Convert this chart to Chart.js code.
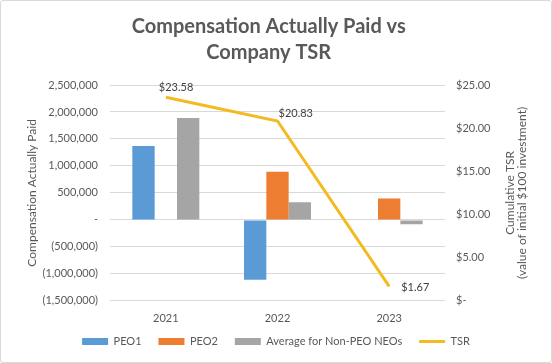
<!DOCTYPE html>
<html>
<head>
<meta charset="utf-8">
<script src="https://cdn.jsdelivr.net/npm/chart.js@4/dist/chart.umd.min.js"></script>
<style>
  html, body { margin: 0; padding: 0; background: #fff; }
  #wrap { width: 550px; height: 361px; border: 1px solid #d9d9d9; border-radius: 3px; overflow: hidden; }
  canvas { display: block; }
</style>
</head>
<body>
<div id="wrap"><canvas id="chart" width="550" height="361"></canvas></div>
<script>
// chart data
const years = ['2021', '2022', '2023'];
const peo1 = [1370000, -1110000, null];
const peo2 = [null, 890000, 395000];
const nonPeoAvg = [1890000, 325000, -80000];
const tsr = [23.58, 20.83, 1.67];

const textColor = '#595959';
const fontFamily = 'Lato, "Open Sans", sans-serif';

function formatComp(v) {
    if (v === 0) return '-';
    const s = Math.abs(v).toLocaleString('en-US');
    return v < 0 ? '(' + s + ')' : s;
}

function formatTsr(v) {
    return v === 0 ? '$-' : '$' + v.toFixed(2);
}

// value labels next to the TSR points
const tsrLabels = {
    id: 'tsrLabels',
    afterDatasetsDraw(chart) {
        const meta = chart.getDatasetMeta(3);
        const ctx = chart.ctx;
        const offsets = [[-7, -10, 'left'], [1, -8, 'left'], [12, 1, 'left']];
        ctx.save();
        ctx.font = '11px ' + fontFamily;
        ctx.fillStyle = '#404040';
        ctx.textBaseline = 'middle';
        meta.data.forEach((pt, i) => {
            const o = offsets[i];
            ctx.textAlign = o[2];
            ctx.fillText(formatTsr(tsr[i]), pt.x + o[0], pt.y + o[1]);
        });
        ctx.restore();
    }
};

// right axis title reads bottom-to-top like the left one
const rightTitle = {
    id: 'rightTitle',
    afterDraw(chart) {
        const ctx = chart.ctx;
        const area = chart.chartArea;
        const cy = (area.top + area.bottom) / 2;
        ctx.save();
        ctx.font = '12px ' + fontFamily;
        ctx.fillStyle = textColor;
        ctx.textAlign = 'center';
        ctx.textBaseline = 'middle';
        [['Cumulative TSR', 65], ['(value of initial $100 investment)', 77]].forEach(l => {
            ctx.save();
            ctx.translate(area.right + l[1], cy);
            ctx.rotate(-Math.PI / 2);
            ctx.fillText(l[0], 0, 0);
            ctx.restore();
        });
        ctx.restore();
    }
};

function drawChart() {
    new Chart(document.getElementById('chart'), {
        type: 'bar',
        data: {
            labels: years,
            datasets: [{
                label: 'PEO1',
                data: peo1,
                backgroundColor: '#5b9bd5',
                pointStyle: 'rect',
                borderWidth: 0,
                yAxisID: 'y'
            }, {
                label: 'PEO2',
                data: peo2,
                backgroundColor: '#ed7d31',
                pointStyle: 'rect',
                borderWidth: 0,
                yAxisID: 'y'
            }, {
                label: 'Average for Non-PEO NEOs',
                data: nonPeoAvg,
                backgroundColor: '#a5a5a5',
                pointStyle: 'rect',
                borderWidth: 0,
                yAxisID: 'y'
            }, {
                type: 'line',
                label: 'TSR',
                data: tsr,
                borderColor: '#f2bb22',
                backgroundColor: '#f2bb22',
                borderWidth: 3,
                pointRadius: 0,
                pointStyle: 'line',
                tension: 0,
                yAxisID: 'y1'
            }]
        },
        options: {
            responsive: false,
            animation: false,
            layout: { padding: { left: 0, right: 0, top: 0, bottom: 5 } },
            datasets: {
                bar: { categoryPercentage: 0.6, barPercentage: 1 }
            },
            plugins: {
                title: {
                    display: true,
                    // trailing spaces nudge the centred title a little left, as in the original
                    text: ['Compensation Actually Paid vs\u00a0\u00a0\u00a0', 'Company TSR\u00a0\u00a0\u00a0'],
                    color: textColor,
                    font: { family: fontFamily, size: 20, weight: 'bold', lineHeight: 1.3 },
                    padding: { top: 13, bottom: 19 }
                },
                legend: {
                    position: 'bottom',
                    labels: {
                        usePointStyle: true,
                        pointStyleWidth: 26,
                        boxHeight: 7,
                        color: textColor,
                        font: { family: fontFamily, size: 11 },
                        padding: 0,
                        generateLabels(chart) {
                            const items = Chart.defaults.plugins.legend.labels.generateLabels(chart);
                            // extra space between entries
                            items.forEach((it, i) => {
                                if (i < items.length - 1) it.text += '      ';
                            });
                            return items;
                        }
                    }
                },
                tooltip: { enabled: false }
            },
            scales: {
                x: {
                    grid: { display: false, drawTicks: false },
                    border: { display: false },
                    ticks: { color: textColor, font: { family: fontFamily, size: 11 }, padding: 11 }
                },
                y: {
                    position: 'left',
                    min: -1500000,
                    max: 2500000,
                    grid: { color: '#d9d9d9', drawTicks: false },
                    border: { display: false },
                    ticks: {
                        stepSize: 500000,
                        color: textColor,
                        font: { family: fontFamily, size: 11 },
                        padding: 12,
                        callback: v => formatComp(v)
                    },
                    title: {
                        display: true,
                        text: 'Compensation Actually Paid',
                        color: textColor,
                        font: { family: fontFamily, size: 12 },
                        padding: { top: 24, bottom: 0 }
                    },
                    afterFit(scale) { scale.width = 109; }
                },
                y1: {
                    position: 'right',
                    min: 0,
                    max: 25,
                    grid: { display: false, drawTicks: false },
                    border: { display: false },
                    ticks: {
                        stepSize: 5,
                        color: textColor,
                        font: { family: fontFamily, size: 11 },
                        padding: 11,
                        callback: v => formatTsr(v)
                    },
                    afterFit(scale) { scale.width = 106; }
                }
            }
        },
        plugins: [tsrLabels, rightTitle]
    });
}

Promise.all([
    document.fonts.load('11px Lato'),
    document.fonts.load('bold 20px Lato')
]).then(drawChart, drawChart);
</script>
</body>
</html>
